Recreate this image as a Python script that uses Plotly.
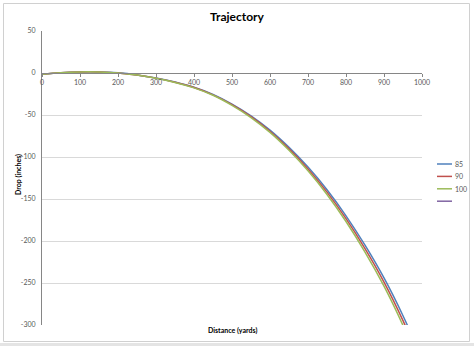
import plotly.graph_objects as go

distance = [0, 50, 100, 150, 200, 250, 300, 350, 400, 450, 500, 550, 600, 650, 700, 750, 800, 850, 900, 950, 1000]
drop_85 = [-1.5, 0.4, 1.3, 1.3, 0.2, -2.3, -6.0, -10.8, -17.0, -25.5, -37.0, -51.0, -68.0, -88.5, -112.0, -139.0, -170.0, -205.0, -244.0, -289.0, -340.0]
drop_90 = [-1.5, 0.4, 1.3, 1.3, 0.1, -2.4, -6.1, -11.0, -17.3, -26.0, -37.7, -52.0, -69.3, -90.2, -114.2, -141.8, -173.4, -209.1, -248.9, -294.8, -346.8]
drop_100 = [-1.5, 0.4, 1.3, 1.2, 0.1, -2.4, -6.2, -11.2, -17.7, -26.5, -38.5, -53.0, -70.7, -92.0, -116.5, -144.6, -176.8, -213.2, -253.8, -300.6, -353.6]

series_names = ["85", "90", "100", ""]
series_colors = ["#4F81BD", "#C0504D", "#9BBB59", "#8064A2"]
series_values = [drop_85, drop_90, drop_100, []]

x_ticks = [0, 100, 200, 300, 400, 500, 600, 700, 800, 900, 1000]
y_ticks = [50, 0, -50, -100, -150, -200, -250, -300]

W, H = 474, 346
ML, MR, MT, MB = 42, 52, 31, 21

fig = go.Figure()
for name, color, vals in zip(series_names, series_colors, series_values):
    fig.add_trace(go.Scatter(
        x=distance[:len(vals)], y=vals, mode="lines", name=name,
        line=dict(color=color, width=1.5, shape="spline"),
        showlegend=False, hoverinfo="skip"))

font_family = "Lato, 'Open Sans', Arial, sans-serif"
ymin, ymax = -300, 50
zero_frac = (0 - ymin) / (ymax - ymin)

fig.update_layout(
    width=W, height=H,
    margin=dict(l=ML, r=MR, t=MT, b=MB),
    paper_bgcolor="white", plot_bgcolor="white",
    font=dict(family=font_family, size=7, color="#595959"),
    title=dict(text="<b>Trajectory</b>", x=0.5, xanchor="center",
               y=1 - 17 / H, yanchor="middle",
               font=dict(size=12, color="#000000", family=font_family)),
    xaxis=dict(range=[0, 1000], tickvals=x_ticks, ticktext=[str(v) for v in x_ticks],
               showgrid=False, zeroline=False, showline=True, linecolor="#868686",
               linewidth=1, anchor="free", position=zero_frac, ticks="outside",
               ticklen=3, tickcolor="#868686", tickfont=dict(size=7, color="#595959"),
               fixedrange=True),
    yaxis=dict(range=[ymin, ymax], tickvals=y_ticks, ticktext=[str(v) for v in y_ticks],
               showgrid=True, gridcolor="#D9D9D9", gridwidth=1, zeroline=False,
               showline=True, linecolor="#868686", linewidth=1, ticks="",
               tickfont=dict(size=7, color="#595959"), ticklabelstandoff=4,
               fixedrange=True),
)

pw, ph = W - ML - MR, H - MT - MB

# axis titles
fig.add_annotation(text="<b>Distance (yards)</b>", xref="paper", yref="paper",
                   x=0.5, y=(H - MB - 330) / ph, xanchor="center", yanchor="middle",
                   showarrow=False, font=dict(size=7, color="#000000"))
fig.add_annotation(text="<b>Drop (inches)</b>", xref="paper", yref="paper",
                   x=-(ML - 18) / pw, y=(H - MB - 175) / ph,
                   xanchor="center", yanchor="middle", textangle=-90,
                   showarrow=False, font=dict(size=7, color="#000000"))

# manual legend
for i, (name, color) in enumerate(zip(series_names, series_colors)):
    ypix = 164 + i * 12.4
    yf = (H - MB - ypix) / ph
    x0 = (437 - ML) / pw
    x1 = (452 - ML) / pw
    fig.add_shape(type="line", xref="paper", yref="paper", x0=x0, x1=x1, y0=yf, y1=yf,
                  line=dict(color=color, width=1.5))
    if name:
        fig.add_annotation(text=name, xref="paper", yref="paper", x=(453 - ML) / pw, y=yf,
                           xanchor="left", yanchor="middle", showarrow=False,
                           font=dict(size=7, color="#595959"))

# chart border and bottom strip
fig.add_shape(type="rect", xref="paper", yref="paper",
              x0=(3.5 - ML) / pw, x1=(469.5 - ML) / pw,
              y0=(H - MB - 341.5) / ph, y1=(H - MB - 3.5) / ph,
              line=dict(color="#D0D0D0", width=1), fillcolor="rgba(0,0,0,0)", layer="below")
fig.add_shape(type="rect", xref="paper", yref="paper",
              x0=-ML / pw, x1=(W - ML) / pw,
              y0=(H - MB - 346) / ph, y1=(H - MB - 343) / ph,
              line=dict(width=0), fillcolor="#E4E4E4", layer="below")

fig.write_html("out.html")
